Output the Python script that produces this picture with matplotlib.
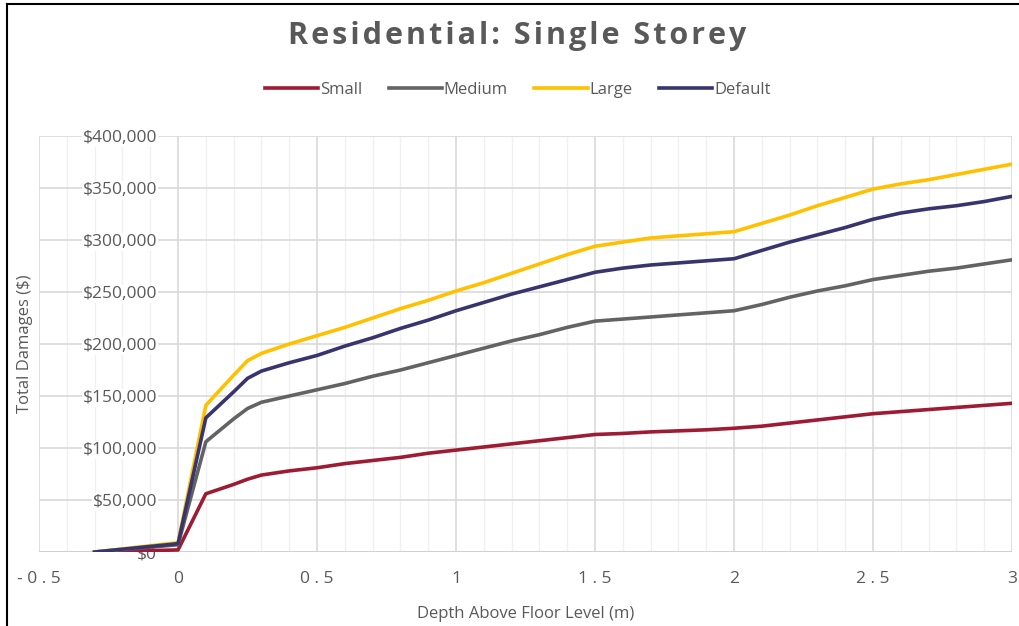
import matplotlib.pyplot as plt
from matplotlib.lines import Line2D
from matplotlib.ticker import MultipleLocator, FuncFormatter

plt.rcParams['font.family'] = ['Open Sans', 'DejaVu Sans']

# depth above floor level (m)
depth = [-0.3, 0, 0.1, 0.2, 0.25, 0.3, 0.4, 0.5, 0.6, 0.7, 0.8, 0.9, 1.0,
         1.1, 1.2, 1.3, 1.4, 1.5, 1.6, 1.7, 1.8, 1.9, 2.0,
         2.1, 2.2, 2.3, 2.4, 2.5, 2.6, 2.7, 2.8, 2.9, 3.0]

# total damages ($) per dwelling size
small = [0, 2000, 56000, 65000, 70000, 74000, 78000, 81000, 85000, 88000, 91000, 95000, 98000,
         101000, 104000, 107000, 110000, 113000, 114000, 115500, 116500, 117500, 119000,
         121000, 124000, 127000, 130000, 133000, 135000, 137000, 139000, 141000, 143000]
medium = [0, 7000, 106000, 128000, 138000, 144000, 150000, 156000, 162000, 169000, 175000, 182000, 189000,
          196000, 203000, 209000, 216000, 222000, 224000, 226000, 228000, 230000, 232000,
          238000, 245000, 251000, 256000, 262000, 266000, 270000, 273000, 277000, 281000]
large = [0, 9000, 141000, 170000, 184000, 191000, 200000, 208000, 216000, 225000, 234000, 242000, 251000,
         259000, 268000, 277000, 286000, 294000, 298000, 302000, 304000, 306000, 308000,
         316000, 324000, 333000, 341000, 349000, 354000, 358000, 363000, 368000, 373000]
default = [0, 8000, 129000, 154000, 167000, 174000, 182000, 189000, 198000, 206000, 215000, 223000, 232000,
           240000, 248000, 255000, 262000, 269000, 273000, 276000, 278000, 280000, 282000,
           290000, 298000, 305000, 312000, 320000, 326000, 330000, 333000, 337000, 342000]

series = [('Small', small, '#9E1B34'),
          ('Medium', medium, '#636363'),
          ('Large', large, '#FFC000'),
          ('Default', default, '#38346E')]

text_grey = '#595959'

fig = plt.figure(figsize=(10.19, 6.26), dpi=100)
ax = fig.add_axes([0.0383, 0.1182, 0.9549, 0.6645])

for name, vals, col in series:
    ax.plot(depth, vals, color=col, lw=2.6, label=name, zorder=3,
            solid_joinstyle='round')

ax.set_xlim(-0.5, 3)
ax.set_ylim(0, 400000)
ax.xaxis.set_major_locator(MultipleLocator(0.5))
ax.xaxis.set_minor_locator(MultipleLocator(0.1))
ax.yaxis.set_major_locator(MultipleLocator(50000))
ax.yaxis.set_major_formatter(FuncFormatter(lambda v, p: f'${v:,.0f}'))
ax.xaxis.set_major_formatter(FuncFormatter(lambda v, p: ' '.join(f'{v:g}')))

ax.set_axisbelow(True)
ax.grid(which='major', color='#D9D9D9', lw=1.2)
ax.grid(which='minor', axis='x', color='#F0F0F0', lw=1.0)
for s in ax.spines.values():
    s.set_visible(False)
ax.axhline(0, color='#D0D0D0', lw=1.4, zorder=1)

# value labels sit just left of x = 0, where the vertical axis crosses
ax.tick_params(axis='both', which='both', length=0, colors=text_grey, labelsize=12.5)
ax.tick_params(axis='y', pad=-85)
ax.tick_params(axis='x', pad=14)
for lbl in ax.get_yticklabels():
    lbl.set_zorder(2.5)
    lbl.set_bbox(dict(facecolor='white', edgecolor='none', pad=0.5))

ax.set_xlabel('Depth Above Floor Level (m)', fontsize=12, color=text_grey, labelpad=13)
ax.set_ylabel('Total Damages ($)', fontsize=12, color=text_grey, labelpad=4)

title = '\u200a'.join('Residential: Single Storey')
fig.suptitle(title, x=0.508, y=0.966, fontsize=22,
             fontweight='bold', color=text_grey)

handles = [Line2D([], [], color=c, lw=2.6) for _, _, c in series]
fig.legend(handles, [n for n, _, _ in series], loc='center', ncol=4,
           bbox_to_anchor=(0.508, 0.857), frameon=False, fontsize=12,
           labelcolor=text_grey, handlelength=3.2, handletextpad=0.1,
           columnspacing=1.6)

# frame lines on the top and left edges of the figure
fig.add_artist(Line2D([6.5 / 1019, 1.0], [1 - 4 / 626, 1 - 4 / 626],
                      transform=fig.transFigure, color='black', lw=1.5))
fig.add_artist(Line2D([6.5 / 1019, 6.5 / 1019], [0, 1 - 4 / 626],
                      transform=fig.transFigure, color='black', lw=1.5))

fig.savefig('out.png', dpi=100)
